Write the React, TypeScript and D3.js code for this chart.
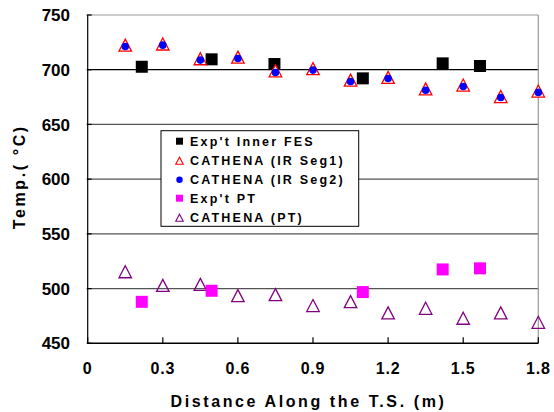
import React from "react";
import * as d3 from "d3";

const simX = [0.15, 0.3, 0.45, 0.6, 0.75, 0.9, 1.05, 1.2, 1.35, 1.5, 1.65, 1.8];
const seg1 = [722.5, 723.5, 710, 711.5, 699, 701, 690.5, 693, 682.5, 686, 675.5, 680.5];
const seg2 = [722, 723.2, 709.5, 711, 698.2, 700.4, 690, 692.7, 682, 685.4, 675.3, 680];
const ptSim = [515.4, 502.9, 503.8, 493.6, 494.5, 484.5, 488.1, 477.8, 482, 472.9, 477.8, 469.2];
const expX = [0.216, 0.495, 0.746, 1.099, 1.418, 1.567];
const expFES = [702.7, 709.5, 705.2, 692.1, 705.8, 703.4];
const expPT = [487.9, 498, 496.8, 517.5, 518.5];
const expPTX = [0.216, 0.495, 1.099, 1.418, 1.567];
const xTicks = [0, 0.3, 0.6, 0.9, 1.2, 1.5, 1.8];
const yTicks = [450, 500, 550, 600, 650, 700, 750];
const legendLabels = ["Exp't Inner FES", "CATHENA (IR Seg1)", "CATHENA (IR Seg2)", "Exp't PT", "CATHENA (PT)"];

const W = 554, H = 412;
const L = 87.7, R = 538.3, T = 15, B = 343.3;
const font = "'Liberation Sans', Arial, sans-serif";

function tri(cx: number, cy: number, w: number, h: number) {
  const p = d3.path();
  p.moveTo(cx, cy - h / 2);
  p.lineTo(cx + w / 2, cy + h / 2);
  p.lineTo(cx - w / 2, cy + h / 2);
  p.closePath();
  return p.toString();
}

export default function App() {
  const x = d3.scaleLinear().domain([0, 1.8]).range([L, R]);
  const y = d3.scaleLinear().domain([450, 750]).range([B, T]);

  const legX = 161, legY = 130.7, legW = 197.7, legH = 95.6;
  const rowY = (i: number) => 141.7 + i * 19;

  return (
    <svg width={W} height={H} style={{ position: "absolute", left: 0, top: 0, background: "#fff" }} fontFamily={font}>
      <rect x={0} y={0} width={W} height={H} fill="#fff" />
      {/* gridlines */}
      {yTicks.slice(1, -1).map((t) => (
        <line key={t} x1={L} x2={R} y1={y(t)} y2={y(t)} stroke={t === 700 ? "#000" : "#555"} strokeWidth={1.2} />
      ))}
      {/* border */}
      <line x1={L} x2={R} y1={T} y2={T} stroke="#999" strokeWidth={1.2} />
      <line x1={R} x2={R} y1={T} y2={B} stroke="#999" strokeWidth={1.2} />
      <line x1={L} x2={L} y1={T} y2={B} stroke="#000" strokeWidth={1.2} />
      <line x1={L} x2={R} y1={B} y2={B} stroke="#000" strokeWidth={1.4} />
      {/* y ticks at left */}
      {yTicks.map((t) => (
        <line key={"yt" + t} x1={L - 1} x2={L + 4} y1={y(t)} y2={y(t)} stroke="#000" strokeWidth={1.2} />
      ))}
      {/* x ticks */}
      {xTicks.map((t) => (
        <line key={"xt" + t} x1={x(t)} x2={x(t)} y1={B} y2={B - 6} stroke="#000" strokeWidth={1.2} />
      ))}
      {/* tick labels */}
      {yTicks.map((t) => (
        <text key={"yl" + t} x={70} y={y(t)} dy="0.36em" textAnchor="end" fontSize={17} fontWeight="bold" fill="#000">
          {t}
        </text>
      ))}
      {xTicks.map((t) => (
        <text key={"xl" + t} x={x(t)} y={368} dy="0.36em" textAnchor="middle" fontSize={16} fontWeight="bold" letterSpacing={0.8} fill="#000">
          {t === 0 ? "0" : t.toFixed(1)}
        </text>
      ))}
      {/* axis titles */}
      <text x={308.5} y={401.5} dy="0.36em" textAnchor="middle" fontSize={16} fontWeight="bold" letterSpacing={2.6} fill="#000">
        Distance Along the T.S. (m)
      </text>
      <text transform={`translate(19,176.7) rotate(-90)`} dy="0.36em" textAnchor="middle" fontSize={16} fontWeight="bold" letterSpacing={2.6} fill="#000">
        Temp.( °C)
      </text>
      {/* PT simulation */}
      {ptSim.map((v, i) => (
        <path key={"pts" + i} d={tri(x(simX[i]), y(v), 12.5, 12)} fill="none" stroke="#800080" strokeWidth={1.3} />
      ))}
      {/* PT experiment */}
      {expPT.map((v, i) => (
        <rect key={"pte" + i} x={x(expPTX[i]) - 6} y={y(v) - 6} width={12} height={12} fill="#FF00FF" />
      ))}
      {/* FES experiment */}
      {expFES.map((v, i) => (
        <rect key={"fes" + i} x={x(expX[i]) - 6} y={y(v) - 6} width={12} height={12} fill="#000" />
      ))}
      {/* Seg1 */}
      {seg1.map((v, i) => (
        <path key={"s1" + i} d={tri(x(simX[i]), y(v), 12.5, 12)} fill="#fff" stroke="#FF0000" strokeWidth={1.3} />
      ))}
      {/* Seg2 */}
      {seg2.map((v, i) => (
        <circle key={"s2" + i} cx={x(simX[i])} cy={y(v) + 0.8} r={3.8} fill="#0000FF" />
      ))}
      {/* legend */}
      <rect x={legX} y={legY} width={legW} height={legH} fill="#fff" stroke="#000" strokeWidth={1} />
      <rect x={176} y={rowY(0) - 4} width={7} height={7} fill="#000" />
      <path d={tri(179.5, rowY(1), 7.5, 7)} fill="none" stroke="#FF0000" strokeWidth={1.1} />
      <circle cx={179.5} cy={rowY(2)} r={3.2} fill="#0000FF" />
      <rect x={176} y={rowY(3) - 4} width={7} height={7} fill="#FF00FF" />
      <path d={tri(179.5, rowY(4), 7.5, 7)} fill="none" stroke="#800080" strokeWidth={1.1} />
      {legendLabels.map((s, i) => (
        <text key={"lg" + i} x={190} y={rowY(i)} dy="0.36em" fontSize={12.5} fontWeight="bold" letterSpacing={2.2} fill="#000">
          {s}
        </text>
      ))}
    </svg>
  );
}
